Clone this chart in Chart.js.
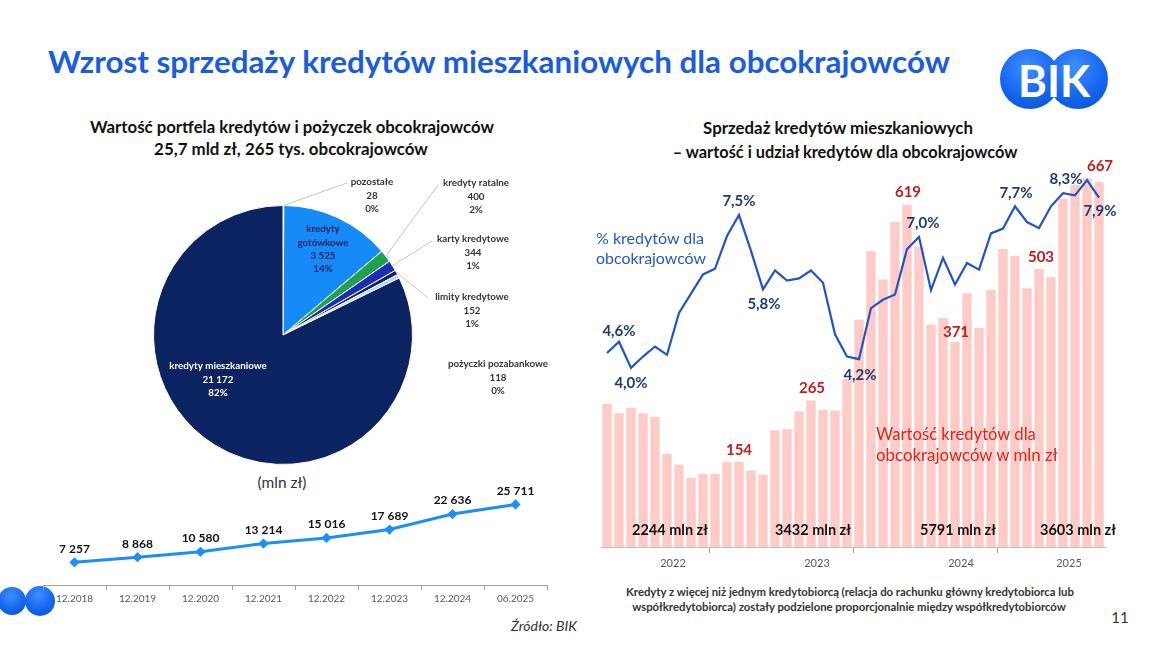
<!DOCTYPE html>
<html lang="pl"><head><meta charset="utf-8">
<script src="https://cdn.jsdelivr.net/npm/chart.js@4.4.1/dist/chart.umd.min.js"></script>
<style>
html,body{margin:0;padding:0;background:#fff;}
body{width:1155px;height:646px;position:relative;overflow:hidden;font-family:Lato,'Open Sans',sans-serif;}
.t{position:absolute;white-space:nowrap;line-height:1;}
.c{transform:translate(-50%,-50%);}
.l{transform:translate(0,-50%);}
canvas{position:absolute;}
.circ{position:absolute;border-radius:50%;background:radial-gradient(circle at 45% 30%,#3F8EFF 0%,#1466EE 55%,#0A4FD0 100%);}
</style></head><body>

<div class="t l" data-w="902" style="left:48px;top:62px;font-size:30px;font-weight:700;color:#1A5CE0;">Wzrost sprzedaży kredytów mieszkaniowych dla obcokrajowców</div>

<div style="position:absolute;left:1000px;top:49px;width:108px;height:60px;">
  <div class="circ" style="left:0;top:0;width:60px;height:60px;"></div>
  <div class="circ" style="left:48px;top:0;width:60px;height:60px;"></div>
  <div class="t c" style="left:54px;top:31px;font-size:44px;font-weight:700;color:#fff;">BIK</div>
</div>

<div class="t c" data-w="404" style="left:292px;top:127px;font-size:15px;font-weight:700;color:#111;">Wartość portfela kredytów i pożyczek obcokrajowców</div>
<div class="t c" data-w="274" style="left:291px;top:149px;font-size:15px;font-weight:700;color:#111;">25,7 mld zł, 265 tys. obcokrajowców</div>

<div class="t c" data-w="270" style="left:838px;top:128px;font-size:15px;font-weight:700;color:#111;">Sprzedaż kredytów mieszkaniowych</div>
<div class="t c" data-w="345" style="left:845px;top:152px;font-size:15px;font-weight:700;color:#111;">– wartość i udział kredytów dla obcokrajowców</div>

<div class="t c" data-w="49" style="left:282px;top:483px;font-size:12px;color:#333;">(mln zł)</div>

<div class="circ" style="left:-2px;top:587px;width:28px;height:28px;"></div>
<div class="circ" style="left:25px;top:586px;width:30px;height:30px;"></div>

<canvas id="pie" width="430" height="310" style="left:140px;top:165px;width:430px;height:310px;"></canvas>
<canvas id="port" width="530" height="140" style="left:30px;top:470px;width:530px;height:140px;"></canvas>
<canvas id="sales" width="540" height="420" style="left:580px;top:155px;width:540px;height:420px;"></canvas>

<div class="t l" data-w="108" style="left:596px;top:238px;font-size:15px;color:#2357CC;">% kredytów dla</div>
<div class="t l" data-w="110" style="left:596px;top:258px;font-size:15px;color:#2357CC;">obcokrajowców</div>
<div class="t l" data-w="160" style="left:876px;top:434px;font-size:16px;color:#D42A1E;">Wartość kredytów dla</div>
<div class="t l" data-w="182" style="left:876px;top:455px;font-size:16px;color:#D42A1E;">obcokrajowców w mln zł</div>

<div class="t c" data-w="448" style="left:850px;top:592px;font-size:10.5px;font-weight:700;color:#333;">Kredyty z więcej niż jednym kredytobiorcą (relacja do rachunku główny kredytobiorca lub</div>
<div class="t c" data-w="434" style="left:849px;top:607px;font-size:10.5px;font-weight:700;color:#333;">współkredytobiorca) zostały podzielone proporcjonalnie między współkredytobiorców</div>
<div class="t c" style="left:1120px;top:617px;font-size:15px;color:#333;">11</div>
<div class="t c" data-w="66" style="left:544px;top:626px;font-size:10px;font-style:italic;color:#333;">Źródło: BIK</div>

<script>
// ---------- DATA ----------
const pieCategories = ['pozostałe','kredyty gotówkowe','kredyty ratalne','karty kredytowe','limity kredytowe','pożyczki pozabankowe','kredyty mieszkaniowe'];
const pieValues = [28, 3525, 400, 344, 152, 118, 21172];

const portfolioDates = ['12.2018','12.2019','12.2020','12.2021','12.2022','12.2023','12.2024','06.2025'];
const portfolioValues = [7257, 8868, 10580, 13214, 15016, 17689, 22636, 25711];

const yearLabels = ['2022','2023','2024','2025'];
const monthsPerYear = [12, 12, 12, 6];
const salesValues = [
  259, 242, 252, 242, 235, 168, 149, 125, 132, 132, 154, 154,
  138, 131, 211, 213, 245, 265, 248, 247, 304, 411, 535, 484,
  588, 619, 543, 402, 414, 371, 459, 396, 465, 539, 527, 468,
  503, 488, 630, 655, 667, 660
];
const sharePct = [
  4.34, 4.6, 4.0, 4.26, 4.49, 4.30, 5.26, 5.70, 6.14, 6.27, 7.02, 7.5,
  6.68, 5.8, 6.23, 6.0, 6.05, 6.23, 5.95, 4.77, 4.26, 4.2, 5.37, 5.56,
  5.68, 6.72, 7.0, 5.78, 6.52, 5.91, 6.40, 6.25, 7.08, 7.19, 7.7, 7.34,
  7.20, 7.70, 8.0, 7.95, 8.3, 7.9
];
const barLabelIdx = [11, 17, 25, 29, 36, 40];
const pctLabelIdx = [1, 2, 11, 13, 21, 26, 34, 40, 41];

// ---------- helpers / layout ----------
document.querySelectorAll('[data-w]').forEach(el => {
  const w = +el.dataset.w;
  const fs = parseFloat(getComputedStyle(el).fontSize);
  const cw = el.getBoundingClientRect().width;
  if (cw > 0) el.style.fontSize = (fs * w / cw).toFixed(2) + 'px';
});
const fmt = v => String(v).replace(/\B(?=(\d{3})+(?!\d))/g, '\u00a0');
Chart.defaults.font.family = 'Lato';
Chart.defaults.animation = false;

// ---------- PIE ----------
const pieColors = ['#D6E6F5', '#168BF8', '#21A150', '#1A2DB5', '#10206A', '#A8DCF8', '#0B2461'];
const pieTotal = pieValues.reduce((a, b) => a + b, 0);
const PX = 140, PY = 165;
const pieLayout = [
  {i:0, x:372, y:182, lead:[347,183], color:'#333333'},
  {i:2, x:476, y:183, lead:[438,185], color:'#333333'},
  {i:3, x:473, y:239, lead:[432,241], color:'#333333'},
  {i:4, x:472, y:297, lead:[428,298], color:'#333333'},
  {i:5, x:498, y:364, lead:null, color:'#333333'},
  {i:1, x:323, y:229, lead:null, color:'#0B2461', split:true},
  {i:6, x:218, y:366, lead:null, color:'#FFFFFF'}
];
const pieLabelPlugin = {
  id: 'pieLabels',
  afterDraw(chart) {
    const ctx = chart.ctx, meta = chart.getDatasetMeta(0);
    ctx.save();
    ctx.textAlign = 'center'; ctx.textBaseline = 'middle';
    ctx.font = 'bold 9.8px Lato';
    pieLayout.forEach(p => {
      const arc = meta.data[p.i];
      const pr = arc.getProps(['x','y','startAngle','endAngle','outerRadius'], true);
      if (p.lead) {
        const m = (pr.startAngle + pr.endAngle) / 2;
        ctx.strokeStyle = '#C4C4C4'; ctx.lineWidth = 1;
        ctx.beginPath();
        ctx.moveTo(pr.x + Math.cos(m) * pr.outerRadius, pr.y + Math.sin(m) * pr.outerRadius);
        ctx.lineTo(p.lead[0] - PX, p.lead[1] - PY);
        ctx.stroke();
      }
      const name = pieCategories[p.i];
      const v = pieValues[p.i];
      const pct = Math.round(v / pieTotal * 100) + '%';
      const lines = p.split ? name.split(' ').concat([fmt(v), pct]) : [name, fmt(v), pct];
      ctx.fillStyle = p.color;
      lines.forEach((s, k) => ctx.fillText(s, p.x - PX, p.y - PY + k * 13.4));
    });
    ctx.restore();
  }
};
new Chart(document.getElementById('pie'), {
  type: 'pie',
  data: { labels: pieCategories, datasets: [{ data: pieValues, backgroundColor: pieColors, borderColor: '#FFFFFF', borderWidth: 1 }] },
  options: {
    responsive: false, animation: false,
    layout: { padding: { left: 13, right: 157, top: 40, bottom: 10 } },
    plugins: { legend: { display: false }, tooltip: { enabled: false } }
  },
  plugins: [pieLabelPlugin]
});

// ---------- PORTFOLIO LINE ----------
const portLabelPlugin = {
  id: 'portLabels',
  afterDatasetsDraw(chart) {
    const ctx = chart.ctx, meta = chart.getDatasetMeta(0);
    ctx.save();
    ctx.font = 'bold 12px Lato'; ctx.fillStyle = '#111';
    ctx.textAlign = 'center'; ctx.textBaseline = 'middle';
    meta.data.forEach((pt, i) => ctx.fillText(fmt(portfolioValues[i]), pt.x, pt.y - 13.5));
    ctx.restore();
  }
};
new Chart(document.getElementById('port'), {
  type: 'line',
  data: { labels: portfolioDates, datasets: [{
    data: portfolioValues, borderColor: '#1E8EF5', borderWidth: 3,
    pointStyle: 'rectRot', pointRadius: 3, pointBackgroundColor: '#1E8EF5', pointBorderColor: '#1E8EF5', tension: 0
  }] },
  options: {
    responsive: false, animation: false,
    layout: { padding: { left: 13, right: 13, top: 21, bottom: 0 } },
    scales: {
      x: {
        offset: true,
        afterFit: s => { s.height = 25; },
        grid: { display: true, offset: true, drawOnChartArea: false, tickLength: 5, color: '#A0A0A0' },
        border: { display: true, color: '#A0A0A0' },
        ticks: { color: '#595959', font: { size: 10 }, padding: 3, maxRotation: 0, autoSkip: false }
      },
      y: { display: false, min: 0, max: 30000 }
    },
    plugins: { legend: { display: false }, tooltip: { enabled: false } }
  },
  plugins: [portLabelPlugin]
});

// ---------- SALES COMBO ----------
const bounds = [], centers = [];
let acc = 0;
monthsPerYear.forEach(n => { bounds.push(acc); centers.push(acc + n / 2); acc += n; });
const yearTotals = monthsPerYear.map((n, k) => salesValues.slice(bounds[k], bounds[k] + n).reduce((a, b) => a + b, 0));
const pctOffsets = {1:[0,-11], 2:[0,15], 11:[0,-14], 13:[1,15], 21:[1,16], 26:[4,-14], 34:[1,-13], 40:[-21,-1], 41:[1,14]};
const barOffsets = {11:[0,-12], 17:[1,-12], 25:[1,-13], 29:[1,-10], 36:[2,-12], 40:[13,-12]};
const totalOffsets = [-3, -4, -3, 9];

const salesLabelPlugin = {
  id: 'salesLabels',
  afterDatasetsDraw(chart) {
    const ctx = chart.ctx, xs = chart.scales.x, ys = chart.scales.y, y2 = chart.scales.y2;
    ctx.save();
    ctx.textAlign = 'center'; ctx.textBaseline = 'middle';
    ctx.font = 'bold 15px Lato';
    ctx.fillStyle = '#C0201C';
    barLabelIdx.forEach(i => {
      const o = barOffsets[i];
      ctx.fillText(String(salesValues[i]), xs.getPixelForValue(i + 0.5) + o[0], ys.getPixelForValue(salesValues[i]) + o[1]);
    });
    ctx.fillStyle = '#1F3A73';
    pctLabelIdx.forEach(i => {
      const o = pctOffsets[i];
      ctx.fillText(sharePct[i].toFixed(1).replace('.', ',') + '%', xs.getPixelForValue(i + 0.5) + o[0], y2.getPixelForValue(sharePct[i]) + o[1]);
    });
    ctx.font = 'bold 14.5px Lato';
    ctx.fillStyle = '#111';
    yearTotals.forEach((t, k) => {
      ctx.fillText(t + ' mln zł', xs.getPixelForValue(centers[k]) + totalOffsets[k], chart.chartArea.bottom - 17);
    });
    ctx.restore();
  }
};
new Chart(document.getElementById('sales'), {
  type: 'bar',
  data: { datasets: [
    { type: 'line', data: sharePct.map((v, i) => ({ x: i + 0.5, y: v })), yAxisID: 'y2',
      borderColor: '#2453C7', borderWidth: 2.2, pointRadius: 0, tension: 0, order: 1 },
    { type: 'bar', data: salesValues.map((v, i) => ({ x: i + 0.5, y: v })), yAxisID: 'y',
      backgroundColor: '#FFCBC6', barPercentage: 0.78, categoryPercentage: 1, order: 2 }
  ] },
  options: {
    responsive: false, animation: false,
    layout: { padding: { left: 21, right: 15, top: 5, bottom: 0 } },
    scales: {
      x: {
        type: 'linear', min: 0, max: salesValues.length, offset: false,
        afterBuildTicks: s => { s.ticks = bounds.concat(centers).sort((a, b) => a - b).map(v => ({ value: v })); },
        afterFit: s => { s.height = 28; },
        grid: { display: true, drawOnChartArea: false, drawTicks: true, tickLength: 6,
          color: c => (c.tick && bounds.includes(c.tick.value)) ? '#A6A6A6' : 'rgba(0,0,0,0)' },
        border: { display: true, color: '#BFBFBF', width: 1 },
        ticks: { autoSkip: false, maxRotation: 0, padding: 4, color: '#595959', font: { size: 11 },
          callback: v => { const k = centers.indexOf(v); return k >= 0 ? yearLabels[k] : ''; } }
      },
      y: { display: false, min: 0, max: 700 },
      y2: { display: false, min: -0.1, max: 8.76, position: 'right' }
    },
    plugins: { legend: { display: false }, tooltip: { enabled: false } }
  },
  plugins: [salesLabelPlugin]
});
</script>
</body></html>
